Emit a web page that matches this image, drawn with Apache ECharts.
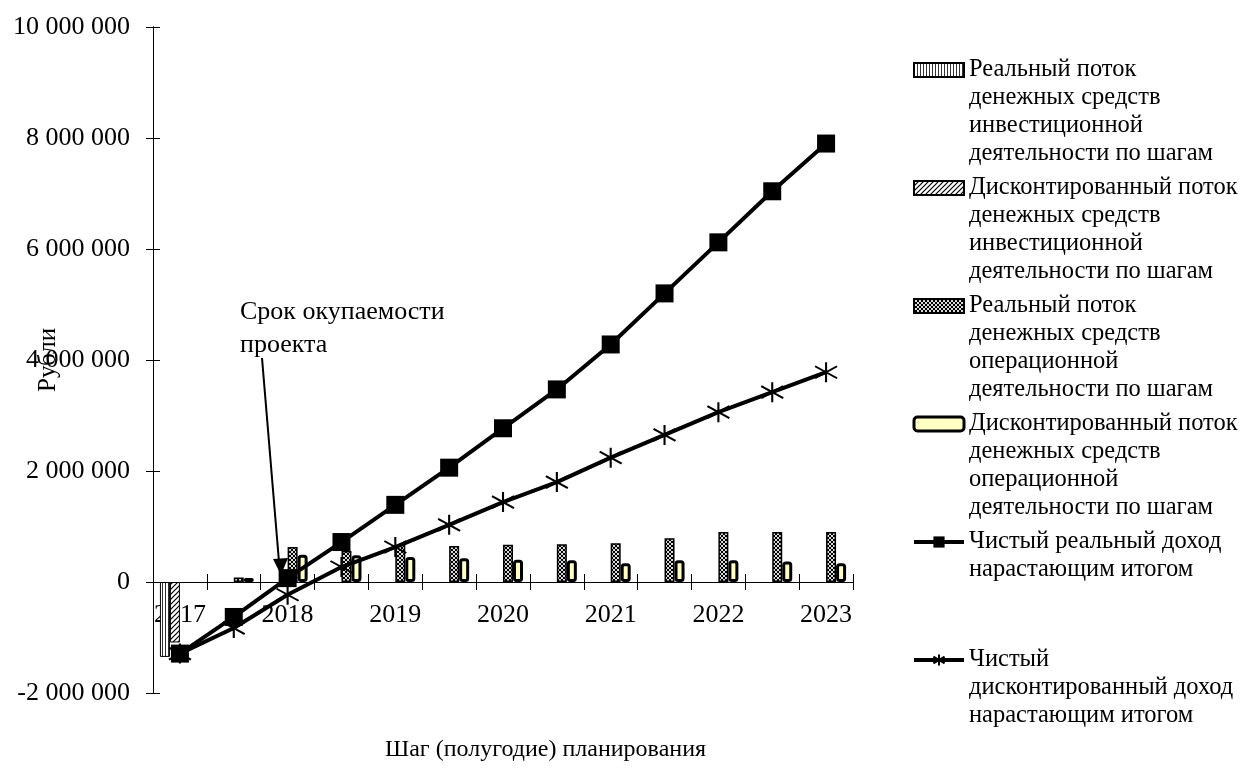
<!DOCTYPE html>
<html>
<head>
<meta charset="utf-8">
<script src="https://cdn.jsdelivr.net/npm/echarts@6/dist/echarts.min.js"></script>
<style>
  html, body { margin: 0; padding: 0; background: #fff; }
  #chart { width: 1242px; height: 776px; }
</style>
</head>
<body>
<div id="chart"></div>
<script>
// Planning steps (half-years); the axis shows only the year at the first half of each year
const periods = ['2017-1', '2017-2', '2018-1', '2018-2', '2019-1', '2019-2', '2020-1',
                 '2020-2', '2021-1', '2021-2', '2022-1', '2022-2', '2023-1'];

// Cash flows by step, roubles
const investReal = [-1350000, null, null, null, null, null, null, null, null, null, null, null, null];
const investDisc = [-1090000, null, null, null, null, null, null, null, null, null, null, null, null];
const operReal = [null, 80000, 630000, 560000, 670000, 650000, 670000, 680000, 700000, 790000, 900000, 900000, 900000];
const operDisc = [null, 70000, 490000, 480000, 450000, 430000, 400000, 390000, 340000, 390000, 390000, 370000, 340000];

// Cumulative net income, roubles
const netReal = [-1290000, -630000, 70000, 720000, 1390000, 2060000, 2770000, 3470000, 4280000, 5200000, 6120000, 7040000, 7900000];
const netDisc = [-1290000, -830000, -230000, 270000, 630000, 1030000, 1440000, 1800000, 2240000, 2650000, 3060000, 3420000, 3780000];

const seriesNames = [
  'Реальный поток денежных средств инвестиционной деятельности по шагам',
  'Дисконтированный поток денежных средств инвестиционной деятельности по шагам',
  'Реальный поток денежных средств операционной деятельности по шагам',
  'Дисконтированный поток денежных средств операционной деятельности по шагам',
  'Чистый реальный доход нарастающим итогом',
  'Чистый дисконтированный доход нарастающим итогом'
];
const legendLines = [
  ['Реальный поток', 'денежных средств', 'инвестиционной', 'деятельности по шагам'],
  ['Дисконтированный поток', 'денежных средств', 'инвестиционной', 'деятельности по шагам'],
  ['Реальный поток', 'денежных средств', 'операционной', 'деятельности по шагам'],
  ['Дисконтированный поток', 'денежных средств', 'операционной', 'деятельности по шагам'],
  ['Чистый реальный доход', 'нарастающим итогом'],
  ['Чистый', 'дисконтированный доход', 'нарастающим итогом']
];

const FONT = '"Liberation Serif", "Times New Roman", serif';
const LEGEND_FS = 24.5;
const LH = 28;          // legend line height
const ROWS = 4;         // text rows reserved for each legend entry
const ENTRY_STEP = 118; // distance between legend entries
const LEGEND_FIRST_Y = 70;

const Y_MIN = -2000000, Y_MAX = 10000000, Y_STEP = 2000000;
const GRID = { left: 153, right: 389, top: 27, bottom: 83 };
const CHART_H = 776;

// Fill patterns for the bars
function makePattern(w, h, draw) {
  const c = document.createElement('canvas');
  c.width = w; c.height = h;
  draw(c.getContext('2d'), w, h);
  return { image: c, repeat: 'repeat' };
}
const stripeFill = makePattern(3, 3, (g) => {
  g.fillStyle = '#fff'; g.fillRect(0, 0, 3, 3);
  g.fillStyle = '#333'; g.fillRect(0, 0, 1, 3);
});
const hatchFill = makePattern(5, 5, (g) => {
  g.fillStyle = '#fff'; g.fillRect(0, 0, 5, 5);
  g.strokeStyle = '#000'; g.lineWidth = 1.2;
  for (const o of [-5, 0, 5]) {
    g.beginPath(); g.moveTo(o - 1, 6); g.lineTo(o + 6, -1); g.stroke();
  }
});
const crossFill = makePattern(4, 4, (g) => {
  g.fillStyle = '#000'; g.fillRect(0, 0, 4, 4);
  g.fillStyle = '#d8d8d8';
  for (let i = 0; i < 4; i++) { g.fillRect(i, i, 1, 1); g.fillRect(3 - i, i, 1, 1); }
});

// Legend text: the block is centred on the icon, so blank rows are put above
// the first line (and below the short entries) to keep the icon on the first line.
const BLANK = '\u00a0';
function legendText(name) {
  const lines = legendLines[seriesNames.indexOf(name)];
  const above = Array(ROWS - 1).fill(BLANK);
  const below = Array(ROWS - lines.length).fill(BLANK);
  return above.concat(lines, below).join('\n');
}
const legendBlock = (2 * ROWS - 1) * LH;

function fmtNum(v) {
  const s = String(Math.abs(v)).replace(/\B(?=(\d{3})+(?!\d))/g, '\u00a0');
  return (v < 0 ? '-' : '') + s;
}

// The category axis sits on the zero line of the value axis
const plotH = CHART_H - GRID.top - GRID.bottom;
const zeroOffset = -plotH * (0 - Y_MIN) / (Y_MAX - Y_MIN);

const axisLineStyle = { color: '#000', width: 1 };
const yRange = { min: Y_MIN, max: Y_MAX, interval: Y_STEP };

const legendItems = seriesNames.map((n, i) => {
  if (i === 3) return { name: n, icon: 'roundRect', itemStyle: { borderWidth: 3 } };
  if (i < 3) return { name: n, icon: 'rect' };
  return { name: n };
});

const chart = echarts.init(document.getElementById('chart'), null, { renderer: 'canvas' });

const option = {
  animation: false,
  backgroundColor: '#fff',
  textStyle: { fontFamily: FONT, color: '#000' },
  grid: Object.assign({ containLabel: false, outerBoundsMode: 'none' }, GRID),
  title: {
    text: 'Шаг (полугодие) планирования',
    left: 385, top: 738, padding: 0,
    textStyle: { fontFamily: FONT, fontSize: 24, fontWeight: 'normal', color: '#000' }
  },
  legend: {
    orient: 'vertical',
    left: 912, top: LEGEND_FIRST_Y - (ROWS - 0.5) * LH, padding: 0,
    height: 1200,
    itemGap: ENTRY_STEP - legendBlock, itemWidth: 50, itemHeight: 14,
    selectedMode: false,
    lineStyle: { width: 4 },
    textStyle: { fontFamily: FONT, fontSize: LEGEND_FS, color: '#000', lineHeight: LH },
    formatter: legendText,
    data: legendItems
  },
  xAxis: [
    {
      type: 'category', data: periods, position: 'bottom', offset: zeroOffset,
      axisLine: { onZero: false, lineStyle: axisLineStyle },
      axisTick: { show: true, interval: 0, length: 8, lineStyle: axisLineStyle },
      axisLabel: { interval: 1, formatter: (v) => v.slice(0, 4), color: '#000',
                   fontFamily: FONT, fontSize: 26, margin: 20 },
      splitLine: { show: false }
    },
    {
      type: 'category', data: periods, position: 'bottom', offset: zeroOffset,
      axisLine: { onZero: false, lineStyle: axisLineStyle },
      axisTick: { show: true, inside: true, interval: 0, length: 8, lineStyle: axisLineStyle },
      axisLabel: { show: false },
      splitLine: { show: false }
    }
  ],
  yAxis: [
    Object.assign({
      type: 'value', position: 'left',
      name: 'Рубли', nameLocation: 'middle', nameGap: 92, nameRotate: 90, nameMoveOverlap: false,
      nameTextStyle: { fontFamily: FONT, fontSize: 25, color: '#000' },
      axisLine: { show: true, lineStyle: axisLineStyle },
      axisTick: { show: true, length: 7, lineStyle: axisLineStyle },
      axisLabel: { formatter: fmtNum, color: '#000', fontFamily: FONT, fontSize: 26, margin: 23 },
      splitLine: { show: false }
    }, yRange),
    Object.assign({
      type: 'value', position: 'left',
      axisLine: { show: true, lineStyle: axisLineStyle },
      axisTick: { show: true, inside: true, length: 7, lineStyle: axisLineStyle },
      axisLabel: { show: false },
      splitLine: { show: false }
    }, yRange)
  ],
  series: [
    {
      name: seriesNames[0], type: 'bar', data: investReal, barWidth: 10, barGap: '0%',
      itemStyle: { color: stripeFill, borderColor: '#000', borderWidth: 1 }
    },
    {
      name: seriesNames[1], type: 'bar', data: investDisc, barWidth: 10, barGap: '0%',
      itemStyle: { color: hatchFill, borderColor: '#000', borderWidth: 1 }
    },
    {
      name: seriesNames[2], type: 'bar', data: operReal, barWidth: 10, barGap: '0%',
      itemStyle: { color: crossFill, borderColor: '#000', borderWidth: 1.5 }
    },
    {
      name: seriesNames[3], type: 'bar', data: operDisc, barWidth: 10, barGap: '0%',
      itemStyle: { color: '#ffffc4', borderColor: '#000', borderWidth: 3, borderRadius: 2 }
    },
    {
      name: seriesNames[4], type: 'line', data: netReal, z: 5,
      color: '#000', showAllSymbol: true,
      lineStyle: { color: '#000', width: 4 },
      symbol: 'rect', symbolSize: 18,
      itemStyle: { color: '#000' }
    },
    {
      name: seriesNames[5], type: 'line', data: netDisc, z: 5,
      color: '#000', showAllSymbol: true,
      lineStyle: { color: '#000', width: 4 },
      symbol: 'path://M11,0L11,20M0,4L22,16M0,16L22,4', symbolSize: [22, 20],
      itemStyle: { color: '#000', borderColor: '#000', borderWidth: 2 }
    }
  ],
  graphic: [
    {
      type: 'text', left: 240, top: 296,
      style: { text: 'Срок окупаемости\nпроекта', font: '26px ' + FONT, fill: '#000', lineHeight: 33 }
    },
    {
      type: 'line',
      shape: { x1: 262, y1: 358, x2: 279, y2: 562 },
      style: { stroke: '#000', lineWidth: 2 }
    },
    {
      type: 'polygon',
      shape: { points: [[281, 575], [273, 559], [288, 558]] },
      style: { fill: '#000' }
    }
  ]
};

chart.setOption(option);
</script>
</body>
</html>
